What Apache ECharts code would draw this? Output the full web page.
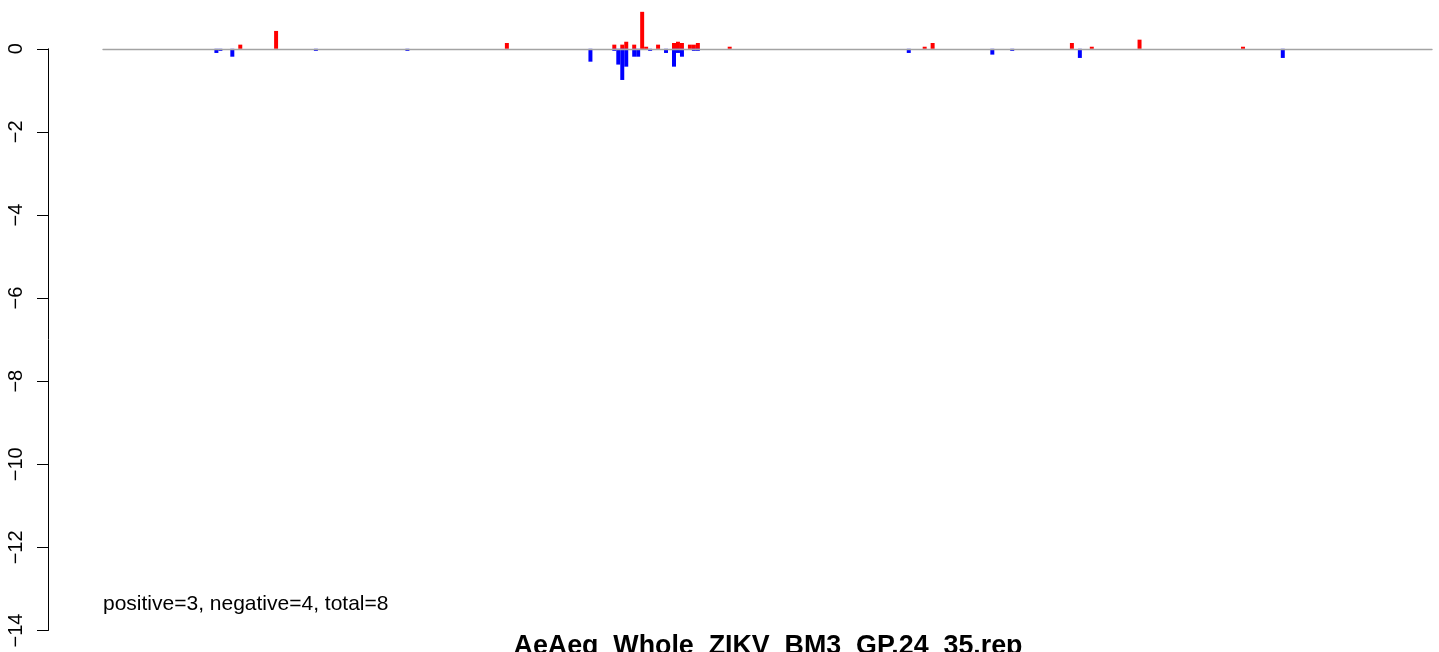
<!DOCTYPE html>
<html>
<head>
<meta charset="utf-8">
<script src="https://cdn.jsdelivr.net/npm/echarts@6/dist/echarts.min.js"></script>
<style>
html,body{margin:0;padding:0;background:#fff;}
#chart{width:1439px;height:652px;}
</style>
</head>
<body>
<div id="chart"></div>
<script>
// ---- data ----
const nCategories = 334;
const categories = Array.from({length: nCategories}, (_, i) => String(i + 1));
const positiveIdx = [34, 43, 101, 128, 130, 131, 133, 135, 136, 139, 143, 144, 145, 147, 148, 149, 157, 206, 208, 243, 248, 260, 286];
const positiveVal = [0.10, 0.43, 0.14, 0.10, 0.10, 0.17, 0.10, 0.89, 0.05, 0.10, 0.14, 0.17, 0.14, 0.10, 0.10, 0.14, 0.05, 0.05, 0.14, 0.14, 0.05, 0.22, 0.05];
const negativeIdx = [28, 29, 32, 53, 76, 122, 128, 129, 130, 131, 133, 134, 137, 141, 143, 144, 145, 148, 149, 202, 223, 228, 245, 296];
const negativeVal = [-0.10, -0.05, -0.19, -0.05, -0.05, -0.31, -0.05, -0.38, -0.75, -0.43, -0.19, -0.19, -0.05, -0.10, -0.43, -0.10, -0.19, -0.05, -0.05, -0.10, -0.14, -0.05, -0.22, -0.22];
const yTicks = [-14, -12, -10, -8, -6, -4, -2, 0];
const summaryText = 'positive=3, negative=4, total=8';
const mainTitle = 'AeAeg_Whole_ZIKV_BM3_GP.24_35.rep';

const posData = positiveIdx.map((c, i) => [c, positiveVal[i]]);
const negData = negativeIdx.map((c, i) => [c, negativeVal[i]]);

const font = '"Liberation Sans", Arial, Helvetica, sans-serif';
const chart = echarts.init(document.getElementById('chart'), null, {renderer: 'canvas'});
chart.setOption({
  animation: false,
  backgroundColor: '#ffffff',
  title: [
    {text: summaryText, left: 103, top: 594, padding: 0,
     textStyle: {fontFamily: font, fontSize: 21, fontWeight: 'normal', color: '#000'}},
    {text: mainTitle, left: 768, textAlign: 'center', top: 633, padding: 0,
     textStyle: {fontFamily: font, fontSize: 26.8, fontWeight: 'bold', color: '#000'}}
  ],
  grid: {left: 103, right: 7, top: 48.8, bottom: 21.5, containLabel: false},
  xAxis: {
    type: 'category', data: categories, boundaryGap: true, z: 10,
    axisLine: {show: true, onZero: true, lineStyle: {color: '#a3a3a3', width: 1.4}},
    axisTick: {show: false}, axisLabel: {show: false}, splitLine: {show: false}
  },
  yAxis: {
    type: 'value', min: yTicks[0], max: yTicks[yTicks.length - 1], interval: 2,
    offset: 55,
    axisLine: {show: true, onZero: false, lineStyle: {color: '#000', width: 1}},
    axisTick: {show: true, length: 11, lineStyle: {color: '#000', width: 1}},
    axisLabel: {show: true, rotate: 90, margin: 22, fontFamily: font, fontSize: 20, color: '#000',
      formatter: v => (v < 0 ? '\u2212' + Math.abs(v) : String(v))},
    splitLine: {show: false}
  },
  series: [
    {type: 'bar', data: posData, clip: false, barGap: '-100%', barCategoryGap: '0%',
     itemStyle: {color: '#ff0000'}, silent: true},
    {type: 'bar', data: negData, clip: false, barGap: '-100%', barCategoryGap: '0%',
     itemStyle: {color: '#0000ff'}, silent: true}
  ]
});
</script>
</body>
</html>
